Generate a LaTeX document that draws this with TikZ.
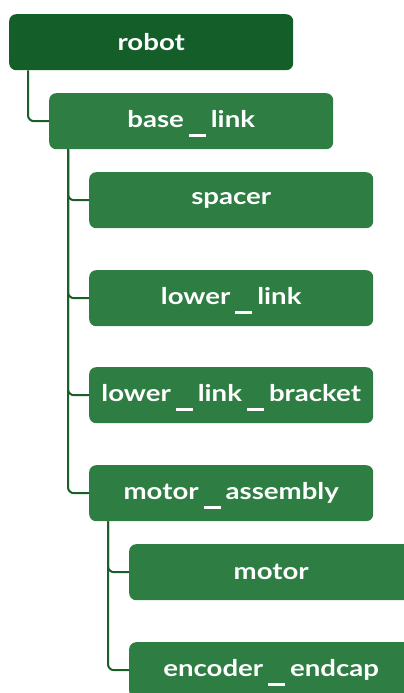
\documentclass[tikz,border=0pt]{standalone}
\usepackage{fontspec}
\newfontfamily\boxfont[FakeStretch=1.2]{Lato}
% wide, spaced underscore used in the part names
\newcommand{\usc}{\hspace{5pt}\raisebox{0pt}[0pt][5pt]{\rule[-9.6pt]{17pt}{2.6pt}}\hspace{5pt}}
\begin{document}
\begin{tikzpicture}[x=1pt,y=-1pt,
  rootbox/.style={draw=none, fill=rootgreen, rounded corners=7pt, minimum width=284pt, minimum height=56pt, inner sep=0pt, text=white, font=\boxfont\fontsize{23}{26}\selectfont\bfseries, anchor=north west},
  partbox/.style={rootbox, fill=partgreen},
  branch/.style={draw=linegreen, line width=2pt, rounded corners=6pt}
]
\definecolor{rootgreen}{HTML}{145E2A}
\definecolor{partgreen}{HTML}{2E7D43}
\definecolor{linegreen}{HTML}{1A5E28}
\useasboundingbox (0,0) rectangle (404,693);
\begin{scope}
\clip (0,0) rectangle (404,693);
\node[rootbox] (robot) at (9,14) {robot};
\node[partbox] (base) at (49,93) {base\usc link};
\node[partbox] (spacer) at (89,172) {spacer};
\node[partbox] (lower) at (89,270) {lower\usc link};
\node[partbox] (bracket) at (89,367) {lower\usc link\usc bracket};
\node[partbox] (assembly) at (89,465) {motor\usc assembly};
\node[partbox] (motor) at (129,544) {motor};
\node[partbox] (encoder) at (129,642) {encoder\usc endcap};

\draw[branch] (robot.south west) ++(19,0) |- (base.west);
\foreach \c in {spacer,lower,bracket,assembly}
  \draw[branch] (base.south west) ++(19,0) |- (\c.west);
\foreach \c in {motor,encoder}
  \draw[branch] (assembly.south west) ++(19,0) |- (\c.west);
\end{scope}
\end{tikzpicture}
\end{document}
